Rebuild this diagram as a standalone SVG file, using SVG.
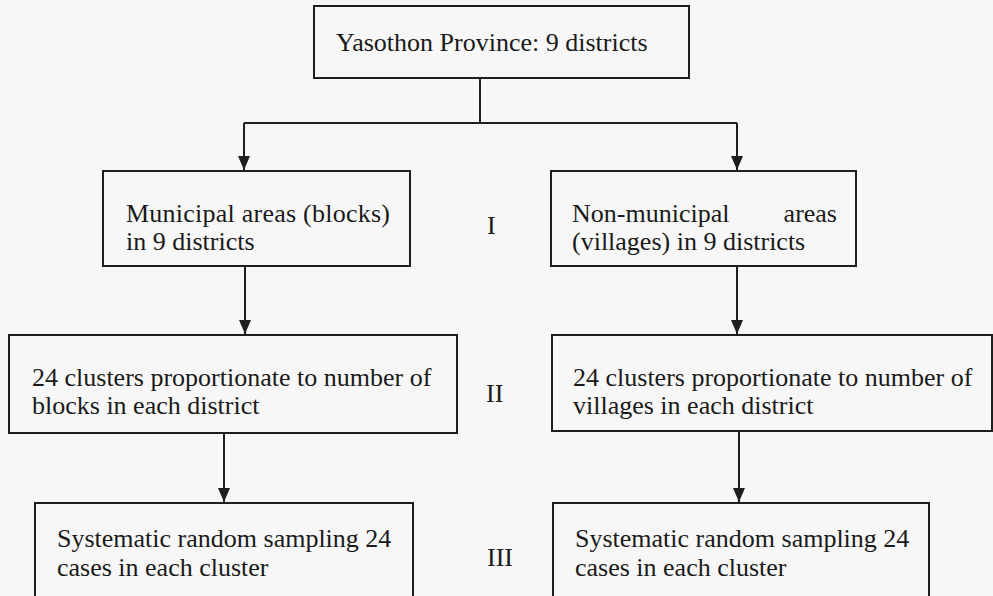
<svg xmlns="http://www.w3.org/2000/svg" width="993" height="596" viewBox="0 0 993 596">
<style>
.box{fill:none;stroke:#1e1e1e;stroke-width:2}
.t{font-family:"Liberation Serif","Times New Roman",serif;font-size:26px;fill:#1a1a1a}
.lab{font-family:"Liberation Serif","Times New Roman",serif;font-size:26px;fill:#1a1a1a}
.ln{fill:none;stroke:#1e1e1e;stroke-width:2}
</style>
<defs>
<marker id="ah" viewBox="0 0 14 12" refX="14" refY="6" markerWidth="14" markerHeight="12" markerUnits="userSpaceOnUse" orient="auto">
<path d="M0,0 L14,6 L0,12 Z" fill="#1e1e1e"/>
</marker>
</defs>
<rect x="0" y="0" width="993" height="596" fill="#f7f7f7"/>
<g id="connectors">
<path class="ln" d="M480,78 V123"/>
<path class="ln" d="M244,123 H737"/>
<path class="ln" d="M244,123 V170" marker-end="url(#ah)"/>
<path class="ln" d="M737,123 V170" marker-end="url(#ah)"/>
<path class="ln" d="M245,266 V334" marker-end="url(#ah)"/>
<path class="ln" d="M737,266 V334" marker-end="url(#ah)"/>
<path class="ln" d="M224,433 V502" marker-end="url(#ah)"/>
<path class="ln" d="M739,431 V502" marker-end="url(#ah)"/>
</g>
<g id="top">
<rect class="box" x="314" y="6" width="375" height="72"/>
<text class="t" x="336" y="51">Yasothon Province: 9 districts</text>
</g>
<g id="municipal">
<rect class="box" x="103" y="171" width="307" height="95"/>
<text class="t" x="126" y="222" textLength="264" lengthAdjust="spacing">Municipal areas (blocks)</text>
<text class="t" x="126" y="250">in 9 districts</text>
</g>
<g id="nonmunicipal">
<rect class="box" x="551" y="171" width="305" height="95"/>
<text class="t" x="572" y="222">Non-municipal</text>
<text class="t" x="837" y="222" text-anchor="end">areas</text>
<text class="t" x="572" y="250">(villages) in 9 districts</text>
</g>
<g id="clusters-left">
<rect class="box" x="9" y="335" width="448" height="98"/>
<text class="t" x="32" y="386">24 clusters proportionate to number of</text>
<text class="t" x="32" y="414">blocks in each district</text>
</g>
<g id="clusters-right">
<rect class="box" x="552" y="335" width="440" height="96"/>
<text class="t" x="573" y="386">24 clusters proportionate to number of</text>
<text class="t" x="573" y="414">villages in each district</text>
</g>
<g id="sampling-left">
<rect class="box" x="35" y="503" width="378" height="110"/>
<text class="t" x="57" y="547">Systematic random sampling 24</text>
<text class="t" x="57" y="576">cases in each cluster</text>
</g>
<g id="sampling-right">
<rect class="box" x="553" y="503" width="376" height="110"/>
<text class="t" x="575" y="547">Systematic random sampling 24</text>
<text class="t" x="575" y="576">cases in each cluster</text>
</g>
<g id="stage-labels">
<text class="lab" x="487" y="234">I</text>
<text class="lab" x="486" y="402">II</text>
<text class="lab" x="487" y="566">III</text>
</g>
</svg>
